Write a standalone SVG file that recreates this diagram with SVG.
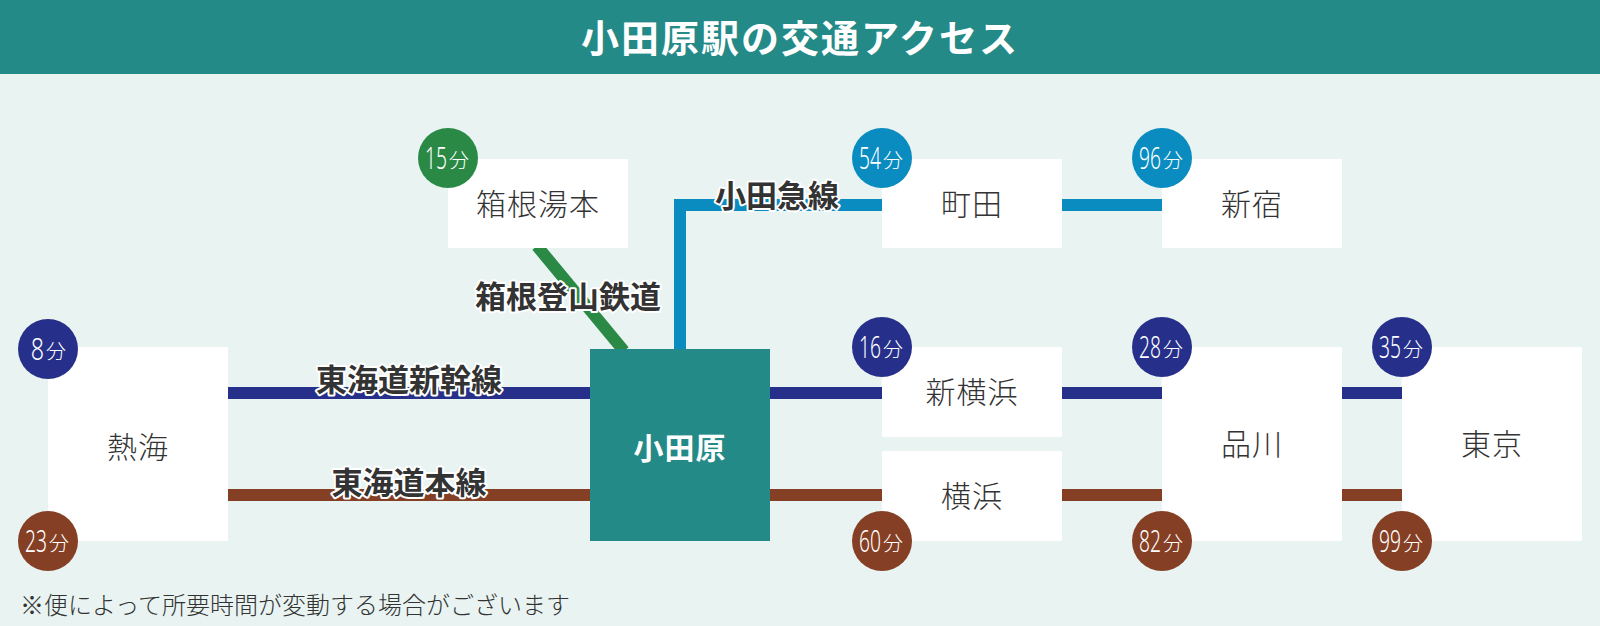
<svg xmlns="http://www.w3.org/2000/svg" width="1600" height="626" viewBox="0 0 1600 626">
<style>
.st{fill:#fff}
.stt{font-family:"Noto Sans CJK JP",sans-serif;font-size:30px;font-weight:300;fill:#333;text-anchor:middle;letter-spacing:1px}
.lbl{font-family:"Noto Sans CJK JP",sans-serif;font-size:31px;font-weight:bold;fill:#333;text-anchor:middle;stroke:#fff;stroke-width:4px;paint-order:stroke;stroke-linejoin:round}
.num{font-family:"Noto Sans","Liberation Sans",sans-serif;font-weight:300;fill:#fff;text-anchor:end;font-size:31px}
.fn{font-family:"Noto Sans CJK JP",sans-serif;font-weight:300;fill:#fff;font-size:20px}
.cb{fill:#26308a}.cr{fill:#853f24}.cl{fill:#0a8cc1}.cg{fill:#2a8a45}
.ln{fill:none;stroke-width:12}
</style>
<rect width="1600" height="626" fill="#e8f3f2"/>
<rect width="1600" height="74" fill="#248a87"/>
<text x="800" y="52" font-family="'Noto Sans CJK JP',sans-serif" font-size="38" font-weight="bold" fill="#fff" text-anchor="middle" letter-spacing="2">小田原駅の交通アクセス</text>

<g id="connectors">
<line x1="537" y1="246" x2="624" y2="351" class="ln" stroke="#2a8a45"/>
<path d="M680,351 V205 H882 M1062,205 H1162" class="ln" stroke="#0a8cc1"/>
<path d="M228,393 H590 M770,393 H882 M1062,393 H1162 M1342,393 H1402" class="ln" stroke="#26308a"/>
<path d="M228,495 H590 M770,495 H882 M1062,495 H1162 M1342,495 H1402" class="ln" stroke="#853f24"/>
<text class="lbl" x="568" y="308">箱根登山鉄道</text>
<text class="lbl" x="777" y="207">小田急線</text>
<text class="lbl" x="409" y="391">東海道新幹線</text>
<text class="lbl" x="409" y="494">東海道本線</text>
</g>

<g id="hakone-yumoto">
<rect class="st" x="448" y="159" width="180" height="89"/>
<text class="stt" x="538" y="215">箱根湯本</text>
<circle class="cg" cx="448" cy="158" r="30"/>
<text class="num" transform="translate(447,169) scale(0.62,1)">15</text>
<text class="fn" x="449" y="168">分</text>
</g>

<g id="machida">
<rect class="st" x="882" y="159" width="180" height="89"/>
<text class="stt" x="972" y="215">町田</text>
<circle class="cl" cx="882" cy="158" r="30"/>
<text class="num" transform="translate(881,169) scale(0.62,1)">54</text>
<text class="fn" x="883" y="168">分</text>
</g>

<g id="shinjuku">
<rect class="st" x="1162" y="159" width="180" height="89"/>
<text class="stt" x="1252" y="215">新宿</text>
<circle class="cl" cx="1162" cy="158" r="30"/>
<text class="num" transform="translate(1161,169) scale(0.62,1)">96</text>
<text class="fn" x="1163" y="168">分</text>
</g>

<g id="atami">
<rect class="st" x="48" y="347" width="180" height="194"/>
<text class="stt" x="138" y="458">熱海</text>
<circle class="cb" cx="48" cy="349" r="30"/>
<text class="num" transform="translate(44,360) scale(0.75,1)">8</text>
<text class="fn" x="46" y="359">分</text>
<circle class="cr" cx="48" cy="541" r="30"/>
<text class="num" transform="translate(47,552) scale(0.62,1)">23</text>
<text class="fn" x="49" y="551">分</text>
</g>

<g id="odawara">
<rect x="590" y="349" width="180" height="192" fill="#248a87"/>
<text x="680" y="459" font-family="'Noto Sans CJK JP',sans-serif" font-size="30" font-weight="bold" fill="#fff" text-anchor="middle" letter-spacing="1">小田原</text>
</g>

<g id="shin-yokohama">
<rect class="st" x="882" y="347" width="180" height="90"/>
<text class="stt" x="972" y="403">新横浜</text>
<circle class="cb" cx="882" cy="347" r="30"/>
<text class="num" transform="translate(881,358) scale(0.62,1)">16</text>
<text class="fn" x="883" y="357">分</text>
</g>

<g id="yokohama">
<rect class="st" x="882" y="451" width="180" height="90"/>
<text class="stt" x="972" y="507">横浜</text>
<circle class="cr" cx="882" cy="541" r="30"/>
<text class="num" transform="translate(881,552) scale(0.62,1)">60</text>
<text class="fn" x="883" y="551">分</text>
</g>

<g id="shinagawa">
<rect class="st" x="1162" y="347" width="180" height="194"/>
<text class="stt" x="1252" y="455">品川</text>
<circle class="cb" cx="1162" cy="347" r="30"/>
<text class="num" transform="translate(1161,358) scale(0.62,1)">28</text>
<text class="fn" x="1163" y="357">分</text>
<circle class="cr" cx="1162" cy="541" r="30"/>
<text class="num" transform="translate(1161,552) scale(0.62,1)">82</text>
<text class="fn" x="1163" y="551">分</text>
</g>

<g id="tokyo">
<rect class="st" x="1402" y="347" width="180" height="194"/>
<text class="stt" x="1492" y="455">東京</text>
<circle class="cb" cx="1402" cy="347" r="30"/>
<text class="num" transform="translate(1401,358) scale(0.62,1)">35</text>
<text class="fn" x="1403" y="357">分</text>
<circle class="cr" cx="1402" cy="541" r="30"/>
<text class="num" transform="translate(1401,552) scale(0.62,1)">99</text>
<text class="fn" x="1403" y="551">分</text>
</g>

<text x="20" y="614" font-family="'Noto Sans CJK JP',sans-serif" font-size="24" font-weight="300" fill="#333">※便によって所要時間が変動する場合がございます</text>
</svg>
